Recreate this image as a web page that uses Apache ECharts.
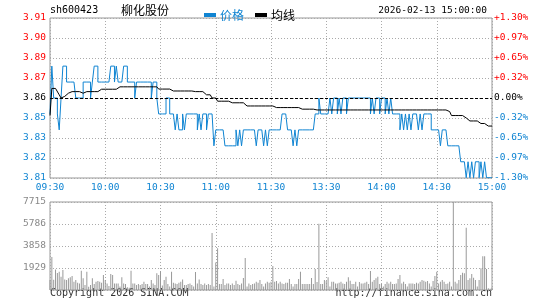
<!DOCTYPE html>
<html>
<head>
<meta charset="utf-8">
<script src="https://cdn.jsdelivr.net/npm/echarts@6/dist/echarts.min.js"></script>
<style>
  html, body { margin: 0; padding: 0; background: #fff; }
  #chart { width: 545px; height: 300px; }
</style>
</head>
<body>
<div id="chart"></div>
<script>
// 昨收
const preClose = 3.86;

// 每分钟价格 09:30-11:30, 13:01-15:00 (241 点)
const prices = [
  3.85,3.88,3.86,3.86,3.85,3.84,3.86,3.88,3.88,3.87,
  3.87,3.87,3.87,3.87,3.86,3.86,3.86,3.86,3.87,3.87,
  3.87,3.87,3.86,3.87,3.88,3.88,3.87,3.87,3.87,3.87,
  3.87,3.87,3.87,3.88,3.88,3.87,3.88,3.87,3.87,3.87,
  3.88,3.88,3.87,3.87,3.87,3.87,3.86,3.87,3.87,3.87,
  3.87,3.87,3.87,3.87,3.87,3.86,3.87,3.87,3.86,3.85,
  3.85,3.85,3.85,3.86,3.86,3.85,3.85,3.85,3.84,3.85,
  3.84,3.84,3.85,3.84,3.85,3.85,3.85,3.85,3.85,3.85,
  3.84,3.85,3.84,3.85,3.85,3.84,3.85,3.85,3.85,3.83,
  3.84,3.84,3.84,3.84,3.84,3.83,3.83,3.83,3.83,3.83,
  3.83,3.84,3.83,3.84,3.83,3.84,3.84,3.84,3.84,3.84,
  3.84,3.84,3.83,3.84,3.84,3.84,3.83,3.84,3.83,3.84,
  3.84,3.84,3.84,3.84,3.84,3.84,3.85,3.85,3.85,3.84,
  3.84,3.84,3.83,3.84,3.83,3.84,3.84,3.84,3.84,3.84,
  3.84,3.84,3.84,3.84,3.85,3.85,3.86,3.85,3.85,3.85,
  3.85,3.85,3.86,3.85,3.86,3.86,3.85,3.86,3.85,3.86,
  3.86,3.85,3.86,3.86,3.86,3.86,3.86,3.86,3.86,3.86,
  3.86,3.86,3.86,3.86,3.85,3.86,3.85,3.86,3.86,3.85,
  3.86,3.86,3.85,3.86,3.85,3.86,3.85,3.85,3.85,3.85,
  3.84,3.85,3.84,3.85,3.84,3.85,3.84,3.85,3.85,3.85,
  3.84,3.85,3.84,3.85,3.85,3.85,3.85,3.84,3.84,3.84,
  3.84,3.84,3.83,3.84,3.84,3.84,3.83,3.83,3.83,3.83,
  3.83,3.83,3.83,3.82,3.82,3.82,3.81,3.82,3.81,3.82,
  3.81,3.82,3.82,3.81,3.82,3.81,3.82,3.81,3.81,3.81,
  3.81
];

// 均价
const avgPrices = [
  3.849,3.866,3.867,3.866,3.865,3.862,3.860,3.860,3.861,3.862,
  3.863,3.864,3.864,3.864,3.864,3.864,3.864,3.864,3.863,3.863,
  3.864,3.864,3.864,3.864,3.864,3.864,3.864,3.864,3.8655,3.8655,
  3.8655,3.8655,3.8655,3.8655,3.8655,3.8655,3.8655,3.8655,3.867,3.867,
  3.867,3.867,3.867,3.867,3.867,3.867,3.867,3.867,3.867,3.867,
  3.867,3.867,3.867,3.867,3.867,3.867,3.867,3.867,3.867,3.8656,
  3.8656,3.8656,3.8656,3.8656,3.8656,3.8656,3.8656,3.8644,3.8644,3.8644,
  3.8644,3.8644,3.8644,3.8644,3.8644,3.8644,3.8644,3.8644,3.864,3.864,
  3.864,3.864,3.864,3.864,3.864,3.862,3.862,3.862,3.860,3.860,
  3.860,3.858,3.858,3.858,3.858,3.858,3.858,3.858,3.857,3.857,
  3.857,3.857,3.857,3.857,3.857,3.857,3.857,3.855,3.855,3.855,
  3.855,3.855,3.855,3.855,3.855,3.855,3.855,3.855,3.855,3.855,
  3.855,3.855,3.854,3.854,3.854,3.854,3.854,3.854,3.854,3.854,
  3.854,3.854,3.854,3.854,3.854,3.854,3.853,3.853,3.853,3.853,
  3.853,3.853,3.853,3.853,3.8525,3.8525,3.8525,3.8525,3.8525,3.8525,
  3.8525,3.8525,3.8525,3.8525,3.8525,3.8525,3.8525,3.8525,3.8525,3.8525,
  3.8525,3.8525,3.8525,3.8525,3.8525,3.8525,3.8525,3.8525,3.8525,3.8525,
  3.8525,3.8525,3.8525,3.8525,3.8525,3.8525,3.8525,3.8525,3.8525,3.8525,
  3.8525,3.8525,3.8525,3.8525,3.8525,3.8525,3.8525,3.8525,3.8525,3.8525,
  3.8525,3.8525,3.8525,3.8525,3.8525,3.8525,3.8525,3.8525,3.8525,3.8525,
  3.8525,3.8525,3.8525,3.8525,3.8525,3.8525,3.8525,3.8525,3.8525,3.8525,
  3.8525,3.8525,3.8525,3.8525,3.8525,3.8525,3.8515,3.8515,3.849,3.849,
  3.849,3.849,3.849,3.849,3.849,3.849,3.8475,3.8475,3.8456,3.8456,
  3.8456,3.8456,3.8456,3.8456,3.844,3.844,3.844,3.844,3.8424,3.8424,
  3.8424
];

// 成交量 (手)
const volumes = [
  880,2900,900,1800,1500,1600,1170,1750,930,880,
  1020,1110,1230,730,880,640,580,1690,1020,440,
  1600,290,440,1020,530,730,790,730,640,1310,
  880,580,350,1400,1310,580,580,580,300,1110,
  580,530,250,200,1690,580,580,440,530,440,
  530,730,530,530,300,880,580,440,1460,1310,
  1650,400,880,1170,530,300,1600,640,580,530,
  640,730,930,440,440,530,580,440,300,1580,
  580,930,530,440,580,440,530,440,5000,300,
  2400,3650,530,530,960,440,580,580,440,580,
  440,820,530,440,580,1050,2800,300,580,440,
  530,580,730,640,880,530,300,580,730,640,
  730,2100,730,790,580,730,580,530,640,640,
  960,530,300,530,530,960,1600,530,530,530,
  530,530,1050,530,1850,700,5800,530,530,880,
  790,1110,300,730,730,580,580,640,730,580,
  530,730,1110,820,530,530,730,300,700,580,
  580,640,730,530,1660,730,880,1020,1170,530,
  530,300,530,730,580,730,530,530,580,960,
  1310,580,730,530,300,580,580,580,530,640,
  580,730,880,820,730,790,580,300,790,1230,
  1600,580,730,880,730,530,580,730,300,7715,
  730,580,880,1310,1520,1460,5450,880,1020,1400,
  1080,880,300,880,1900,2950,2950,1850,150,100,
  200
];

// 刻度标签
const priceLabels = ['3.81', '3.82', '3.83', '3.85', '3.86', '3.87', '3.89', '3.90', '3.91'];
const pctLabels = ['-1.30%', '-0.97%', '-0.65%', '-0.32%', '0.00%', '+0.32%', '+0.65%', '+0.97%', '+1.30%'];
const volLabels = ['', '1929', '3858', '5786', '7715'];
const volMax = 7715;

// 时间轴 09:30-11:30, 13:01-15:00
const times = [];
const hm = m => String(Math.floor(m / 60)).padStart(2, '0') + ':' + String(m % 60).padStart(2, '0');
for (let m = 570; m <= 690; m++) times.push(hm(m));
for (let m = 781; m <= 900; m++) times.push(hm(m));

const BLUE = '#0f84d2';
const RED = '#ff0000';
const MONO = 'DejaVu Sans Mono';

const toPct = p => (p - preClose) / preClose * 100;
const labelColor = (v, i) => (i > 4 ? RED : i === 4 ? '#000' : BLUE);
const every30 = i => i % 30 === 0;
const dotted = { color: '#aaa', type: [1, 2], width: 1 };

const chart = echarts.init(document.getElementById('chart'));
chart.setOption({
  animation: false,
  legend: {
    left: 199, top: 4,
    icon: 'rect', itemWidth: 12, itemHeight: 4, itemGap: 11,
    textStyle: { fontSize: 12, fontFamily: 'Noto Sans CJK SC', color: '#000', padding: [0, 0, 0, -1] },
    data: [{ name: '价格', textStyle: { color: BLUE } }, { name: '均线' }]
  },
  graphic: [
    { type: 'text', left: 50, top: 5, style: { text: 'sh600423', font: '10px ' + MONO, fill: '#000' } },
    { type: 'text', left: 121, top: 4, style: { text: '柳化股份', font: '12px "Noto Sans CJK SC"', fill: '#000' } },
    { type: 'text', right: 58, top: 6, style: { text: '2026-02-13 15:00:00', font: '9.5px ' + MONO, fill: '#000' } },
    { type: 'text', left: 50, top: 288, style: { text: 'Copyright 2026 SINA.COM', font: '10px ' + MONO, fill: '#333' } },
    { type: 'text', right: 53, top: 288, style: { text: 'http://finance.sina.com.cn', font: '10px ' + MONO, fill: '#333' } }
  ],
  grid: [
    { left: 50, right: 53, top: 18, height: 160, show: true, borderColor: '#999', borderWidth: 1 },
    { left: 50, right: 53, top: 202, height: 88, show: true, borderColor: '#999', borderWidth: 1 }
  ],
  xAxis: [
    {
      type: 'category', gridIndex: 0, data: times, boundaryGap: false,
      axisLine: { show: false }, axisTick: { show: false },
      axisLabel: { interval: every30, color: BLUE, fontFamily: MONO, fontSize: 9.5, margin: 5, showMinLabel: true, showMaxLabel: true },
      splitLine: { show: true, interval: every30, lineStyle: dotted }
    },
    {
      type: 'category', gridIndex: 1, data: times, boundaryGap: false,
      axisLine: { show: false }, axisTick: { show: false }, axisLabel: { show: false },
      splitLine: { show: true, interval: every30, lineStyle: dotted }
    }
  ],
  yAxis: [
    {
      type: 'value', gridIndex: 0, min: -1.3, max: 1.3, interval: 0.325,
      axisLine: { show: false }, axisTick: { show: false },
      axisLabel: { formatter: (v, i) => priceLabels[i], color: labelColor, fontFamily: MONO, fontSize: 9.5, margin: 4 },
      splitLine: { show: true, lineStyle: dotted }
    },
    {
      type: 'value', gridIndex: 0, position: 'right', min: -1.3, max: 1.3, interval: 0.325,
      axisLine: { show: false }, axisTick: { show: false },
      axisLabel: { formatter: (v, i) => pctLabels[i], color: labelColor, fontFamily: MONO, fontSize: 9.5, margin: 2 },
      splitLine: { show: false }
    },
    {
      type: 'value', gridIndex: 1, min: 0, max: volMax, interval: volMax / 4,
      axisLine: { show: false }, axisTick: { show: false },
      axisLabel: { formatter: (v, i) => volLabels[i], color: '#888', fontFamily: MONO, fontSize: 9.5, margin: 4 },
      splitLine: { show: true, lineStyle: dotted }
    }
  ],
  series: [
    {
      name: '价格', type: 'line', xAxisIndex: 0, yAxisIndex: 0,
      data: prices.map(toPct), step: 'end', showSymbol: false,
      lineStyle: { color: BLUE, width: 1 }, itemStyle: { color: BLUE },
      markLine: {
        silent: true, symbol: ['none', 'none'], label: { show: false },
        lineStyle: { color: '#000', type: [3, 2], width: 1 },
        data: [{ yAxis: 0 }]
      }
    },
    {
      name: '均线', type: 'line', xAxisIndex: 0, yAxisIndex: 0,
      data: avgPrices.map(toPct), showSymbol: false,
      lineStyle: { color: '#000', width: 1 }, itemStyle: { color: '#000' }
    },
    {
      name: '成交量', type: 'bar', xAxisIndex: 1, yAxisIndex: 2,
      data: volumes, barWidth: 1, itemStyle: { color: '#999' }
    }
  ]
});
</script>
</body>
</html>
